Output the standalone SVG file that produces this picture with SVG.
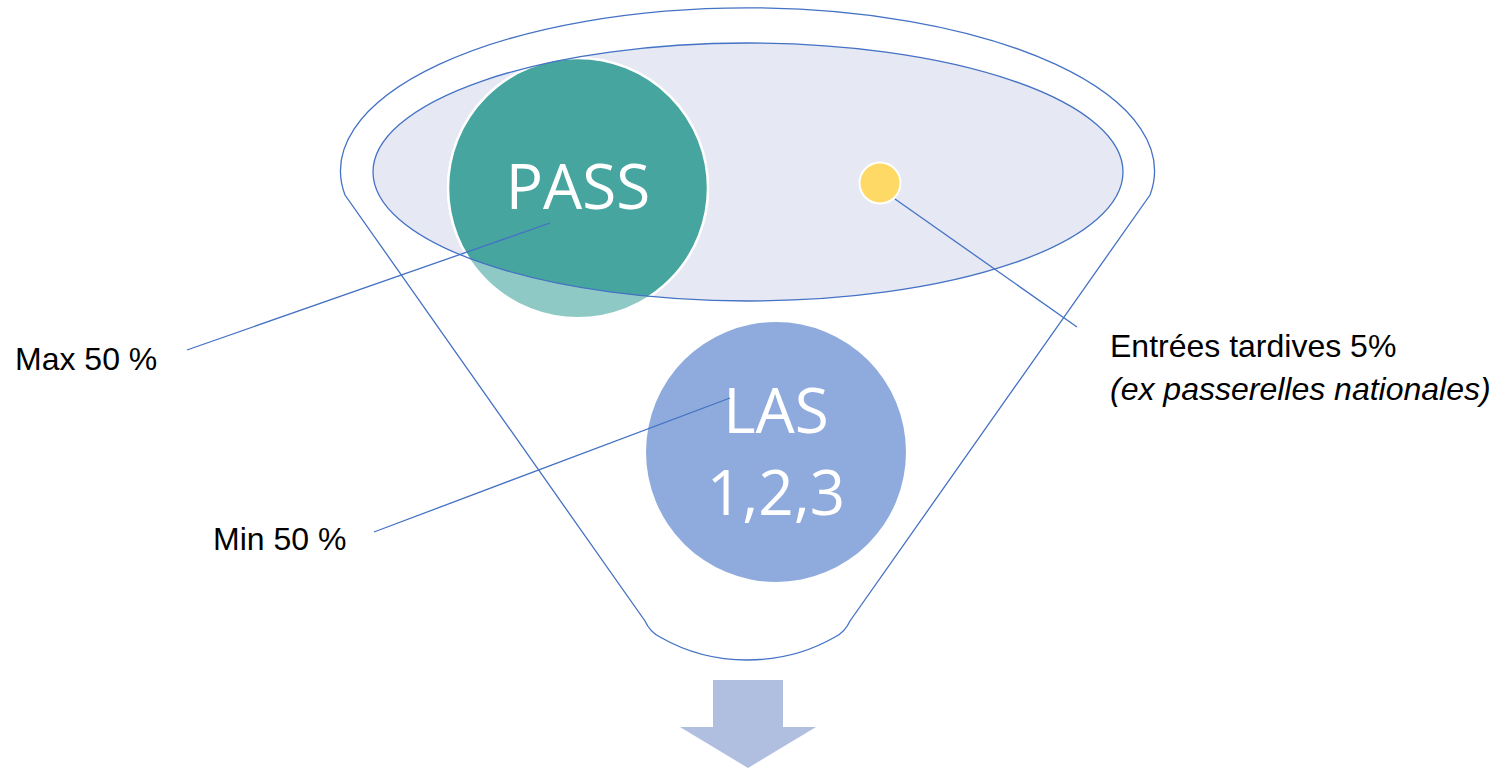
<svg xmlns="http://www.w3.org/2000/svg" width="1505" height="768" viewBox="0 0 1505 768">
<style>
.ol{fill:none;stroke:#4472C4;stroke-width:1.3}
.lbl{font-family:"Liberation Sans",Arial,sans-serif;font-size:32px;fill:#000}
.big{font-family:"Open Sans","Liberation Sans",sans-serif;font-size:62px;fill:#fff;text-anchor:middle}
</style>
<defs>
<clipPath id="inEl"><ellipse cx="748" cy="172" rx="375" ry="129"/></clipPath>
</defs>
<rect width="1505" height="768" fill="#fff"/>
<g id="funnel">
<path class="ol" d="M345,195 A407,163 0 1 1 1150,195 L850,621 Q845,632 835,637 Q795,660 747,660 Q700,660 660,637 Q650,632 645,621 Z"/>
</g>
<g id="inner">
<ellipse cx="748" cy="172" rx="375" ry="129" fill="#E6E8F4"/>
</g>
<g id="pass">
<circle cx="578" cy="188" r="130" fill="#8FC9C5" stroke="#fff" stroke-width="2"/>
<circle cx="578" cy="188" r="130" fill="#47A59F" stroke="#fff" stroke-width="2.5" clip-path="url(#inEl)"/>
<text class="big" x="578" y="209">PASS</text>
</g>
<g id="inner-outline">
<ellipse class="ol" cx="748" cy="172" rx="375" ry="129"/>
</g>
<g id="late">
<circle cx="880" cy="183" r="20.5" fill="#FFD966" stroke="#fff" stroke-width="2"/>
</g>
<g id="las">
<circle cx="776" cy="452" r="130" fill="#8FAADC"/>
<text class="big" x="776" y="433">LAS</text>
<text class="big" x="776" y="515">1,2,3</text>
</g>
<g id="arrow">
<path d="M713,680 H783 V727 H816 L748,768 L680,727 H713 Z" fill="#B0BEDF"/>
</g>
<g id="connectors">
<line class="ol" x1="187" y1="350" x2="550" y2="223"/>
<line class="ol" x1="374" y1="532" x2="730" y2="398"/>
<line class="ol" x1="895" y1="199" x2="1077" y2="327"/>
</g>
<g id="labels">
<text class="lbl" x="15" y="370">Max 50 %</text>
<text class="lbl" x="213" y="550">Min 50 %</text>
<text class="lbl" x="1110" y="357">Entrées tardives 5%</text>
<text class="lbl" x="1110" y="400" font-style="italic">(ex passerelles nationales)</text>
</g>
</svg>
